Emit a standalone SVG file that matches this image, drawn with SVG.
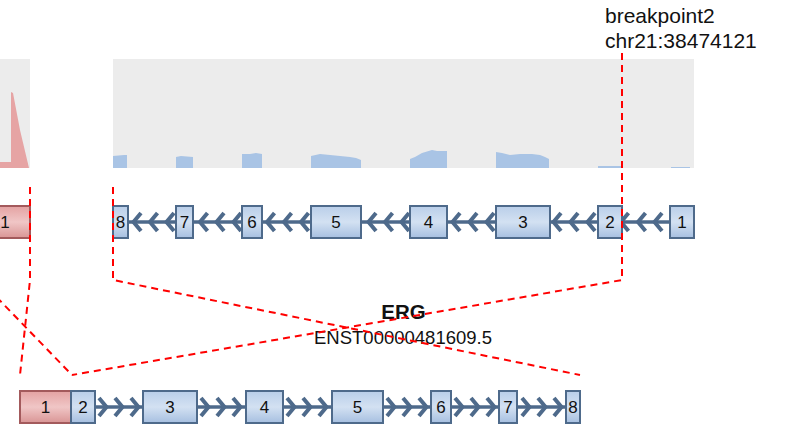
<svg xmlns="http://www.w3.org/2000/svg" width="786" height="425" viewBox="0 0 786 425">
<defs>
<linearGradient id="gBlue" x1="0" y1="0" x2="0" y2="1">
<stop offset="0" stop-color="#b9cee9"/><stop offset="0.5" stop-color="#d3e1f2"/><stop offset="1" stop-color="#a6bfe0"/>
</linearGradient>
<linearGradient id="gPink" x1="0" y1="0" x2="0" y2="1">
<stop offset="0" stop-color="#e4a2a2"/><stop offset="0.5" stop-color="#f0c6c6"/><stop offset="1" stop-color="#d99595"/>
</linearGradient>
<path id="chL" d="M4,-9 L-3.5,0 L4,9"/>
<path id="chR" d="M-4,-9 L3.5,0 L-4,9"/>
<style>
.bg{fill:#ececec}
.covB{fill:#a9c4e5}
.covP{fill:#e6a4a4}
.ex{fill:url(#gBlue);stroke:#4e6a8b;stroke-width:2}
.exP{fill:url(#gPink);stroke:#a35a5c;stroke-width:2}
.intron{stroke:#4e6a8b;stroke-width:3.5;fill:none}
.chev use{stroke:#4e6a8b;stroke-width:4;fill:none;stroke-linejoin:miter}
.num{font-family:"Liberation Sans",Arial,sans-serif;font-size:17px;fill:#111;text-anchor:middle}
.lbl{font-family:"Liberation Sans",Arial,sans-serif;fill:#111}
.bp{fill:none;stroke:#ff0000;stroke-width:2;stroke-dasharray:7,5}
</style>
</defs>
<rect width="786" height="425" fill="#ffffff"/>

<!-- coverage panels -->
<rect class="bg" x="-2" y="59" width="32" height="109"/>
<polygon class="covP" points="-2,168 -2,162 11,162 11,92 13,93 20,130 29,168"/>
<rect class="bg" x="113" y="59" width="581" height="109"/>
<polygon class="covB" points="113,168 113,156 124,155 127,155 127,168"/>
<polygon class="covB" points="176,168 176,157 181,156 193,157 193,168"/>
<polygon class="covB" points="242,168 242,154 250,154 256,153 262,154 262,168"/>
<polygon class="covB" points="311,168 311,156 320,154 330,155 340,156 350,157 356,158 361,160 361,168"/>
<polygon class="covB" points="410,168 410,159 415,157 422,153 432,150 437,151 447,151 447,168"/>
<polygon class="covB" points="496,168 496,152 502,153 510,155 520,154 532,154 540,155 545,157 549,159 549,168"/>
<polygon class="covB" points="598,168 598,166 622,166 622,168"/>
<polygon class="covB" points="671,168 671,167 690,167 690,168"/>

<!-- top transcript intron line and chevrons -->
<line class="intron" x1="128" y1="222" x2="670" y2="222"/>
<g class="chev">
<use href="#chL" x="137" y="222"/><use href="#chL" x="153.5" y="222"/><use href="#chL" x="170" y="222"/>
<use href="#chL" x="203.5" y="222"/><use href="#chL" x="220" y="222"/><use href="#chL" x="237" y="222"/>
<use href="#chL" x="270.5" y="222"/><use href="#chL" x="287.5" y="222"/><use href="#chL" x="304.5" y="222"/>
<use href="#chL" x="372" y="222"/><use href="#chL" x="388.5" y="222"/><use href="#chL" x="405" y="222"/>
<use href="#chL" x="456" y="222"/><use href="#chL" x="473" y="222"/><use href="#chL" x="490" y="222"/>
<use href="#chL" x="557" y="222"/><use href="#chL" x="574" y="222"/><use href="#chL" x="591" y="222"/>
<use href="#chL" x="624.5" y="222"/><use href="#chL" x="641.5" y="222"/><use href="#chL" x="658" y="222"/>
</g>

<!-- bottom fused transcript intron line and chevrons -->
<line class="intron" x1="95" y1="407" x2="566" y2="407"/>
<g class="chev">
<use href="#chR" x="103" y="407"/><use href="#chR" x="119" y="407"/><use href="#chR" x="135" y="407"/>
<use href="#chR" x="205" y="407"/><use href="#chR" x="221" y="407"/><use href="#chR" x="237" y="407"/>
<use href="#chR" x="291" y="407"/><use href="#chR" x="307" y="407"/><use href="#chR" x="323" y="407"/>
<use href="#chR" x="391" y="407"/><use href="#chR" x="407" y="407"/><use href="#chR" x="423" y="407"/>
<use href="#chR" x="459" y="407"/><use href="#chR" x="475" y="407"/><use href="#chR" x="491" y="407"/>
<use href="#chR" x="526" y="407"/><use href="#chR" x="542" y="407"/><use href="#chR" x="558" y="407"/>
</g>

<!-- top row exons -->
<g id="g1-exon1"><rect class="exP" x="-24" y="206" width="54" height="32"/><text class="num" x="5" y="228">1</text></g>
<g id="erg-exon8"><rect class="ex" x="113" y="206" width="15" height="32"/><text class="num" x="120.5" y="228">8</text></g>
<g id="erg-exon7"><rect class="ex" x="176" y="206" width="17" height="32"/><text class="num" x="184.5" y="228">7</text></g>
<g id="erg-exon6"><rect class="ex" x="242" y="206" width="20" height="32"/><text class="num" x="252" y="228">6</text></g>
<g id="erg-exon5"><rect class="ex" x="311" y="206" width="50" height="32"/><text class="num" x="336" y="228">5</text></g>
<g id="erg-exon4"><rect class="ex" x="410" y="206" width="37" height="32"/><text class="num" x="428.5" y="228">4</text></g>
<g id="erg-exon3"><rect class="ex" x="496" y="206" width="54" height="32"/><text class="num" x="523" y="228">3</text></g>
<g id="erg-exon2"><rect class="ex" x="598" y="206" width="24" height="32"/><text class="num" x="610" y="228">2</text></g>
<g id="erg-exon1"><rect class="ex" x="670" y="206" width="24" height="32"/><text class="num" x="682" y="228">1</text></g>

<!-- bottom fused row exons -->
<g id="f-exon1"><rect class="exP" x="20" y="391" width="51" height="32"/><text class="num" x="45.5" y="413">1</text></g>
<g id="f-exon2"><rect class="ex" x="71" y="391" width="24" height="32"/><text class="num" x="83" y="413">2</text></g>
<g id="f-exon3"><rect class="ex" x="143" y="391" width="54" height="32"/><text class="num" x="170" y="413">3</text></g>
<g id="f-exon4"><rect class="ex" x="246" y="391" width="37" height="32"/><text class="num" x="264.5" y="413">4</text></g>
<g id="f-exon5"><rect class="ex" x="332" y="391" width="51" height="32"/><text class="num" x="357.5" y="413">5</text></g>
<g id="f-exon6"><rect class="ex" x="431" y="391" width="20" height="32"/><text class="num" x="441" y="413">6</text></g>
<g id="f-exon7"><rect class="ex" x="499" y="391" width="18" height="32"/><text class="num" x="508" y="413">7</text></g>
<g id="f-exon8"><rect class="ex" x="566" y="391" width="14" height="32"/><text class="num" x="573" y="413">8</text></g>

<!-- labels -->
<g id="labels">
<text class="lbl" x="605" y="23" font-size="21">breakpoint2</text>
<text class="lbl" x="605" y="48" font-size="21">chr21:38474121</text>
<text class="lbl" x="403.5" y="319" font-size="20.5" font-weight="bold" text-anchor="middle">ERG</text>
<text class="lbl" x="403" y="344" font-size="18.5" text-anchor="middle">ENST00000481609.5</text>
</g>

<!-- breakpoint connectors -->
<g id="connectors">
<polyline class="bp" points="30,187 30,280 20,375"/>
<polyline class="bp" points="-20,280 72,375"/>
<polyline class="bp" points="113,187 113,280 580,375"/>
<polyline class="bp" points="622,53 622,280 72,375"/>
</g>
</svg>
